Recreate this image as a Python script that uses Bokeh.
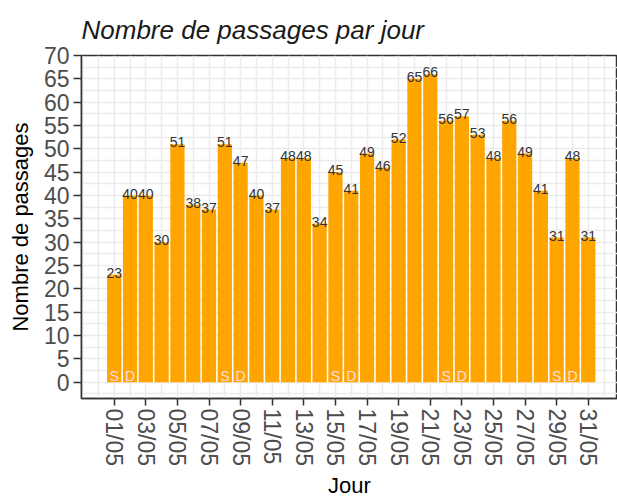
from bokeh.plotting import figure
from bokeh.models import FixedTicker, ColumnDataSource, Range1d
from bokeh.core.properties import value
from bokeh.embed import file_html
from bokeh.resources import INLINE

# ---- data ----
days = list(range(1, 32))
day_labels = ["%02d/05" % d for d in days]
passages = [23, 40, 40, 30, 51, 38, 37, 51, 47, 40, 37, 48, 48, 34, 45, 41,
            49, 46, 52, 65, 66, 56, 57, 53, 48, 56, 49, 41, 31, 48, 31]
weekend = ["S", "D", "", "", "", "", "", "S", "D", "", "", "", "", "", "S", "D",
           "", "", "", "", "", "S", "D", "", "", "", "", "", "S", "D", ""]
y_ticks = list(range(0, 75, 5))

FONT = "Liberation Sans"

src = ColumnDataSource(dict(
    x=days,
    top=passages,
    lab=[str(v) for v in passages],
    we=weekend,
    zero=[0] * len(days),
))

p = figure(width=617, height=501, output_backend="svg", toolbar_location=None,
           x_range=Range1d(-1.07, 32.85), y_range=Range1d(-3.5, 70),
           title="Nombre de passages par jour",
           min_border_left=81, min_border_right=0, min_border_top=55,
           min_border_bottom=103)

p.title.text_font = FONT
p.title.text_font_style = "italic"
p.title.text_font_size = "26px"
p.title.text_color = "#1a1a1a"
p.title.offset = 0
p.title.standoff = 22

p.background_fill_color = "white"
p.border_fill_color = "white"
p.outline_line_color = "#333333"
p.outline_line_width = 1.5

# grid: every day vertically, every 2.5 horizontally
p.xgrid.ticker = FixedTicker(ticks=list(range(-1, 34)))
p.ygrid.ticker = FixedTicker(ticks=[i * 2.5 for i in range(-1, 29)])
for g in (p.xgrid, p.ygrid):
    g.grid_line_color = "#EBEBEB"
    g.grid_line_width = 1.5

p.vbar(x="x", top="top", width=0.9, source=src, fill_color="#FFA500",
       line_color=None)

p.text(x="x", y="top", text="lab", source=src, text_align="center",
       text_baseline="middle", text_font=value(FONT), text_font_size="14px",
       text_color="#333333", y_offset=-2)

p.text(x="x", y="zero", text="we", source=src, text_align="center",
       text_baseline="bottom", text_font=value(FONT), text_font_size="14px",
       text_color="#FFDDE4", y_offset=2)

# axes
p.xaxis.ticker = FixedTicker(ticks=days[::2])
p.xaxis.major_label_overrides = {d: l for d, l in zip(days, day_labels)}
p.xaxis.major_label_orientation = "vertical"
p.xaxis.axis_label = "Jour"
p.yaxis.ticker = FixedTicker(ticks=y_ticks)
p.yaxis.axis_label = "Nombre de passages"

for ax in (p.xaxis, p.yaxis):
    ax.axis_line_color = "#333333"
    ax.axis_line_width = 1.5
    ax.major_tick_line_color = "#333333"
    ax.major_tick_line_width = 1.5
    ax.minor_tick_line_color = None
    ax.major_tick_in = 0
    ax.major_label_text_font = FONT
    ax.major_label_text_font_size = "23px"
    ax.major_label_text_color = "#4D4D4D"
    ax.axis_label_text_font = FONT
    ax.axis_label_text_font_size = "22px"
    ax.axis_label_text_font_style = "normal"
    ax.axis_label_text_color = "#000000"

p.yaxis.major_tick_out = 8
p.yaxis.major_label_standoff = 4
p.yaxis.axis_label_standoff = 8
p.xaxis.major_tick_out = 7
p.xaxis.major_label_standoff = 3
p.xaxis.axis_label_standoff = 4

open("out.html", "w").write(file_html(p, INLINE))
